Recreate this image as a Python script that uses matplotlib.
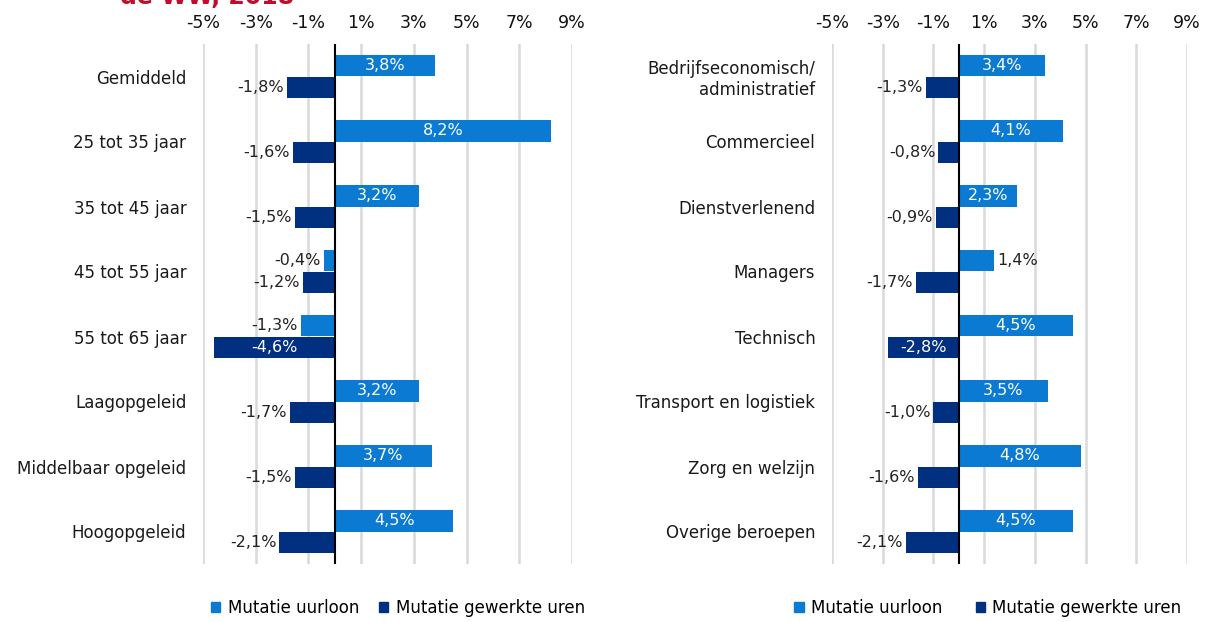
import matplotlib.pyplot as plt
from matplotlib.patches import Patch

plt.rcParams['font.family'] = ['DejaVu Sans']

# data
left_cats = ['Gemiddeld', '25 tot 35 jaar', '35 tot 45 jaar', '45 tot 55 jaar',
             '55 tot 65 jaar', 'Laagopgeleid', 'Middelbaar opgeleid', 'Hoogopgeleid']
left_uurloon = [3.8, 8.2, 3.2, -0.4, -1.3, 3.2, 3.7, 4.5]
left_uren = [-1.8, -1.6, -1.5, -1.2, -4.6, -1.7, -1.5, -2.1]

right_cats = ['Bedrijfseconomisch/\nadministratief', 'Commercieel', 'Dienstverlenend',
              'Managers', 'Technisch', 'Transport en logistiek', 'Zorg en welzijn',
              'Overige beroepen']
right_uurloon = [3.4, 4.1, 2.3, 1.4, 4.5, 3.5, 4.8, 4.5]
right_uren = [-1.3, -0.8, -0.9, -1.7, -2.8, -1.0, -1.6, -2.1]

ticks = [-5, -3, -1, 1, 3, 5, 7, 9]
c_light = '#0B7AD3'
c_dark = '#00307F'
W, H = 1206, 622

fig = plt.figure(figsize=(W / 100, H / 100), dpi=100)

# cut-off title remnant at the very top
fig.text(120 / W, 1 - 4 / H, 'de WW, 2018', color='#C00D2B', fontsize=17,
         fontweight='bold', va='baseline', ha='left')


def fmt(v):
    return f'{v:.1f}%'.replace('.', ',')


def panel(rect, cats, uurloon, uren):
    ax = fig.add_axes(rect)
    y = list(range(len(cats)))
    h = 0.33
    ax.barh([i - h / 2 for i in y], uurloon, height=h, color=c_light)
    ax.barh([i + h / 2 for i in y], uren, height=h, color=c_dark)
    for vals, off in ((uurloon, -h / 2), (uren, h / 2)):
        for i, v in enumerate(vals):
            if abs(v) >= 2.2:
                ax.text(v / 2, i + off, fmt(v), color='white', ha='center',
                        va='center', fontsize=11.5)
            elif v >= 0:
                ax.text(v + 0.12, i + off, fmt(v), color='#222222', ha='left',
                        va='center', fontsize=11.5)
            else:
                ax.text(v - 0.12, i + off, fmt(v), color='#222222', ha='right',
                        va='center', fontsize=11.5)
    ax.set_xlim(-5, 9)
    ax.set_ylim(len(cats) - 0.5, -0.5)
    ax.set_xticks(ticks)
    ax.set_xticklabels([f'{t}%' for t in ticks])
    ax.xaxis.tick_top()
    ax.set_yticks(y)
    ax.set_yticklabels(cats)
    ax.tick_params(axis='x', length=0, pad=8.5, labelsize=12.5, colors='#111111')
    ax.tick_params(axis='y', length=0, pad=12, labelsize=12, colors='#1a1a1a')
    for lab in ax.get_yticklabels():
        lab.set_multialignment('right')
    for s in ax.spines.values():
        s.set_visible(False)
    ax.grid(axis='x', color='#D9D9D9', linewidth=1.8)
    ax.set_axisbelow(True)
    ax.axvline(0, color='black', linewidth=1.5, zorder=3)
    return ax


panel([203 / W, 1 - 564 / H, (572 - 203) / W, 520 / H], left_cats, left_uurloon, left_uren)
panel([832 / W, 1 - 564 / H, (1187 - 832) / W, 520 / H], right_cats, right_uurloon, right_uren)

handles = [Patch(color=c_light, label='Mutatie uurloon'),
           Patch(color=c_dark, label='Mutatie gewerkte uren')]
for cx, sp in ((398 / W, 1.2), (988 / W, 2.0)):
    fig.legend(handles=handles, loc='center', bbox_to_anchor=(cx, 1 - 608 / H),
               ncol=2, frameon=False, fontsize=12, handlelength=0.55,
               handleheight=0.55, handletextpad=0.45, columnspacing=sp)

fig.savefig('out.png', dpi=100)
